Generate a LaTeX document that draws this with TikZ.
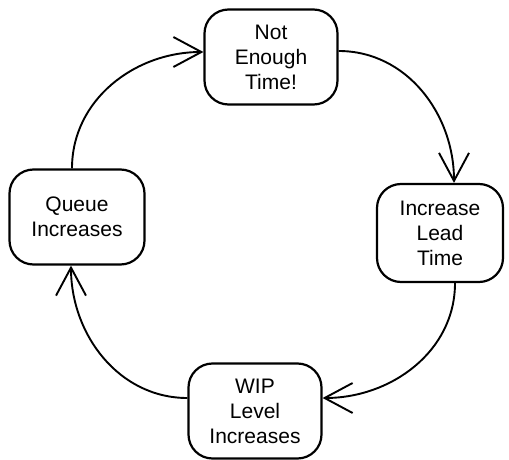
\documentclass[tikz,border=0pt]{standalone}
\usepackage{fontspec}
\setmainfont{Liberation Sans}
\usetikzlibrary{arrows.meta}
\tikzset{
  % a step of the loop: rounded box, text centred
  state/.style={
    draw=black, line width=2.2pt, fill=white,
    rounded corners=24pt, minimum width=133pt, minimum height=95pt,
    inner sep=2pt, align=center,
    font=\fontsize{21}{25}\selectfont,
  },
  % curved link between two steps, open barb at the end
  flow/.style={draw=black, line width=1.9pt,
    -{Straight Barb[length=28pt,width=30pt,line width=1.9pt]}},
}

\begin{document}
\begin{tikzpicture}[x=1pt,y=1pt]
\useasboundingbox (0,0) rectangle (509,-460);

% ----- the four steps -----
\node[state] (time)  at (271,-57)  {Not\\Enough\\Time!};
\node[state, minimum width=126pt, minimum height=98pt]
                     (lead)  at (440,-233) {Increase\\Lead\\Time};
\node[state] (wip)   at (255,-411) {WIP\\Level\\Increases};
\node[state, minimum width=135pt]
                     (queue) at (77,-217)  {Queue\\Increases};

% ----- the loop, clockwise -----
\draw[flow] ([yshift=6pt]time.east) to[out=0,in=90] ([xshift=14pt]lead.north);
\draw[flow] ([xshift=15pt]lead.south) to[out=-90,in=0] ([yshift=13pt]wip.east);
\draw[flow] ([yshift=13pt]wip.west) to[out=180,in=-90] ([xshift=-6pt]queue.south);
\draw[flow] ([xshift=-5pt]queue.north) to[out=90,in=180] ([yshift=5pt]time.west);

\end{tikzpicture}
\end{document}
